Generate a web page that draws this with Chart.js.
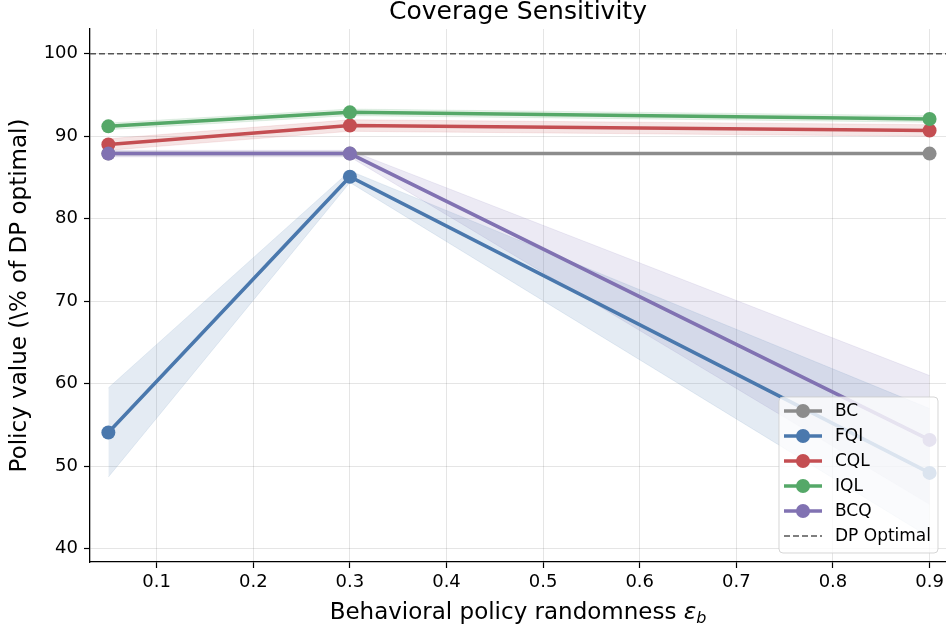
<!DOCTYPE html>
<html>
<head>
<meta charset="utf-8">
<script src="https://cdn.jsdelivr.net/npm/chart.js@4.4.0/dist/chart.umd.min.js"></script>
<style>
  body { margin: 0; background: #fff; }
  canvas { display: block; }
</style>
</head>
<body>
<canvas id="myChart" width="946" height="632"></canvas>
<script>
// epsilon_b values of the behavioral policy
var epsValues = [0.05, 0.3, 0.9];

// mean policy value per method (% of DP optimal)
var bcMean  = [87.9, 87.9, 87.9];
var fqiMean = [54.1, 85.1, 49.2];
var cqlMean = [89.0, 91.3, 90.7];
var iqlMean = [91.2, 92.9, 92.1];
var bcqMean = [87.9, 87.9, 53.2];

// shaded band edges
var fqiLo = [48.7, 84.4, 41.4];
var fqiHi = [59.5, 85.8, 57.0];
var cqlLo = [88.3, 90.6, 90.0];
var cqlHi = [89.7, 92.0, 91.4];
var iqlLo = [90.8, 92.5, 91.7];
var iqlHi = [91.6, 93.3, 92.5];
var bcqLo = [87.5, 87.5, 45.4];
var bcqHi = [88.3, 88.3, 61.0];

var dpOptimal = 100;

var xTicks = [0.1, 0.2, 0.3, 0.4, 0.5, 0.6, 0.7, 0.8, 0.9];
var yTicks = [40, 50, 60, 70, 80, 90, 100];
var xMin = 0.031, xMax = 0.917;
var yMin = 38.4, yMax = 103;

var FONT = "'DejaVu Sans', sans-serif";

function pts(arr) {
    return epsValues.map(function (x, i) { return {x: x, y: arr[i]}; });
}
function rgba(hex, a) {
    var r = parseInt(hex.substr(1, 2), 16), g = parseInt(hex.substr(3, 2), 16), b = parseInt(hex.substr(5, 2), 16);
    return 'rgba(' + r + ',' + g + ',' + b + ',' + a + ')';
}

var methods = [
    {name: 'BC',  color: '#8c8c8c', mean: bcMean,  lo: null,  hi: null},
    {name: 'FQI', color: '#4a78ad', mean: fqiMean, lo: fqiLo, hi: fqiHi},
    {name: 'CQL', color: '#c44e52', mean: cqlMean, lo: cqlLo, hi: cqlHi},
    {name: 'IQL', color: '#55a868', mean: iqlMean, lo: iqlLo, hi: iqlHi},
    {name: 'BCQ', color: '#8172b2', mean: bcqMean, lo: bcqLo, hi: bcqHi}
];

var datasets = [];
// bands first (drawn underneath)
methods.forEach(function (m) {
    if (!m.lo) return;
    datasets.push({
        label: m.name + ' lo', data: pts(m.lo), borderColor: rgba(m.color, 0.12),
        borderWidth: 1, pointRadius: 0, fill: false, order: 20
    });
    datasets.push({
        label: m.name + ' hi', data: pts(m.hi), borderColor: rgba(m.color, 0.12),
        backgroundColor: rgba(m.color, 0.15), borderWidth: 1, pointRadius: 0,
        fill: '-1', order: 20
    });
});
datasets.push({
    label: 'DP Optimal', data: [{x: xMin, y: dpOptimal}, {x: xMax, y: dpOptimal}],
    borderColor: '#555555', borderWidth: 1.6, borderDash: [6, 3], pointRadius: 0,
    fill: false, order: 10
});
methods.forEach(function (m, i) {
    datasets.push({
        label: m.name, data: pts(m.mean), borderColor: m.color, backgroundColor: m.color,
        borderWidth: 3.5, pointRadius: 7, pointBorderWidth: 0, pointBackgroundColor: m.color,
        fill: false, order: 5 - i
    });
});

var legendItems = methods.map(function (m) { return {name: m.name, color: m.color}; });
legendItems.push({name: 'DP Optimal', color: '#555555', dashed: true});

var overlay = {
    id: 'overlay',
    afterDraw: function (chart) {
        var ctx = chart.ctx, area = chart.chartArea;
        var cx = (area.left + area.right) / 2;
        ctx.save();
        // title, centred over the axes
        ctx.fillStyle = '#000';
        ctx.textAlign = 'center';
        ctx.textBaseline = 'middle';
        ctx.font = '25px ' + FONT;
        ctx.fillText('Coverage Sensitivity', cx, 12);

        // x axis title with subscript
        ctx.textBaseline = 'alphabetic';
        var main = 'Behavioral policy randomness ';
        ctx.font = '23px ' + FONT;
        var w1 = ctx.measureText(main).width;
        ctx.font = 'italic 23px ' + FONT;
        var w2 = ctx.measureText('ε').width;
        ctx.font = 'italic 16px ' + FONT;
        var w3 = ctx.measureText('b').width;
        var x0 = cx - (w1 + w2 + w3) / 2;
        var by = 619;
        ctx.textAlign = 'left';
        ctx.font = '23px ' + FONT;
        ctx.fillText(main, x0, by);
        ctx.font = 'italic 23px ' + FONT;
        ctx.fillText('ε', x0 + w1, by);
        ctx.font = 'italic 16px ' + FONT;
        ctx.fillText('b', x0 + w1 + w2, by + 4);

        // legend box
        var bw = 159, bh = 156;
        var bx = area.right - 8 - bw, byy = area.bottom - 9 - bh;
        ctx.beginPath();
        ctx.roundRect(bx, byy, bw, bh, 4);
        ctx.fillStyle = 'rgba(255,255,255,0.8)';
        ctx.fill();
        ctx.strokeStyle = 'rgba(204,204,204,0.8)';
        ctx.lineWidth = 1;
        ctx.stroke();
        ctx.font = '17px ' + FONT;
        ctx.textBaseline = 'middle';
        legendItems.forEach(function (it, i) {
            var ry = byy + 14 + i * 25;
            ctx.beginPath();
            ctx.strokeStyle = it.color;
            if (it.dashed) {
                ctx.lineWidth = 1.6;
                ctx.setLineDash([6, 3]);
            } else {
                ctx.lineWidth = 3.5;
                ctx.setLineDash([]);
            }
            ctx.moveTo(bx + 5, ry);
            ctx.lineTo(bx + 43, ry);
            ctx.stroke();
            ctx.setLineDash([]);
            if (!it.dashed) {
                ctx.beginPath();
                ctx.fillStyle = it.color;
                ctx.arc(bx + 24, ry, 7, 0, Math.PI * 2);
                ctx.fill();
            }
            ctx.fillStyle = '#000';
            ctx.fillText(it.name, bx + 56, ry + 1);
        });
        ctx.restore();
    }
};

var ctx = document.getElementById('myChart').getContext('2d');
var chart = new Chart(ctx, {
    type: 'line',
    data: {datasets: datasets},
    options: {
        responsive: false,
        animation: false,
        devicePixelRatio: 1,
        layout: {autoPadding: false, padding: {top: 29, right: 0, bottom: 0, left: 0}},
        plugins: {
            legend: {display: false},
            tooltip: {enabled: false},
            title: {display: false}
        },
        scales: {
            x: {
                type: 'linear', min: xMin, max: xMax,
                afterBuildTicks: function (s) { s.ticks = xTicks.map(function (v) { return {value: v}; }); },
                afterFit: function (s) { s.height = 70; s.paddingRight = 0; s.paddingLeft = 0; },
                ticks: {
                    color: '#000', font: {family: FONT, size: 18}, padding: 4,
                    maxRotation: 0, autoSkip: false,
                    callback: function (v) { return v.toFixed(1); }
                },
                grid: {color: 'rgba(0,0,0,0.1)', lineWidth: 1, tickColor: '#000', tickLength: 6, tickWidth: 1.2},
                border: {color: '#000', width: 1.3}
            },
            y: {
                type: 'linear', min: yMin, max: yMax,
                afterBuildTicks: function (s) { s.ticks = yTicks.map(function (v) { return {value: v}; }); },
                afterFit: function (s) { s.width = 90; s.paddingTop = 0; s.paddingBottom = 0; },
                ticks: {color: '#000', font: {family: FONT, size: 18}, padding: 6},
                grid: {color: 'rgba(0,0,0,0.1)', lineWidth: 1, tickColor: '#000', tickLength: 6, tickWidth: 1.2},
                border: {color: '#000', width: 1.3},
                title: {
                    display: true, text: 'Policy value (\\% of DP optimal)', color: '#000',
                    font: {family: FONT, size: 23}, padding: {top: 6, bottom: 0}
                }
            }
        }
    },
    plugins: [overlay]
});
</script>
</body>
</html>
